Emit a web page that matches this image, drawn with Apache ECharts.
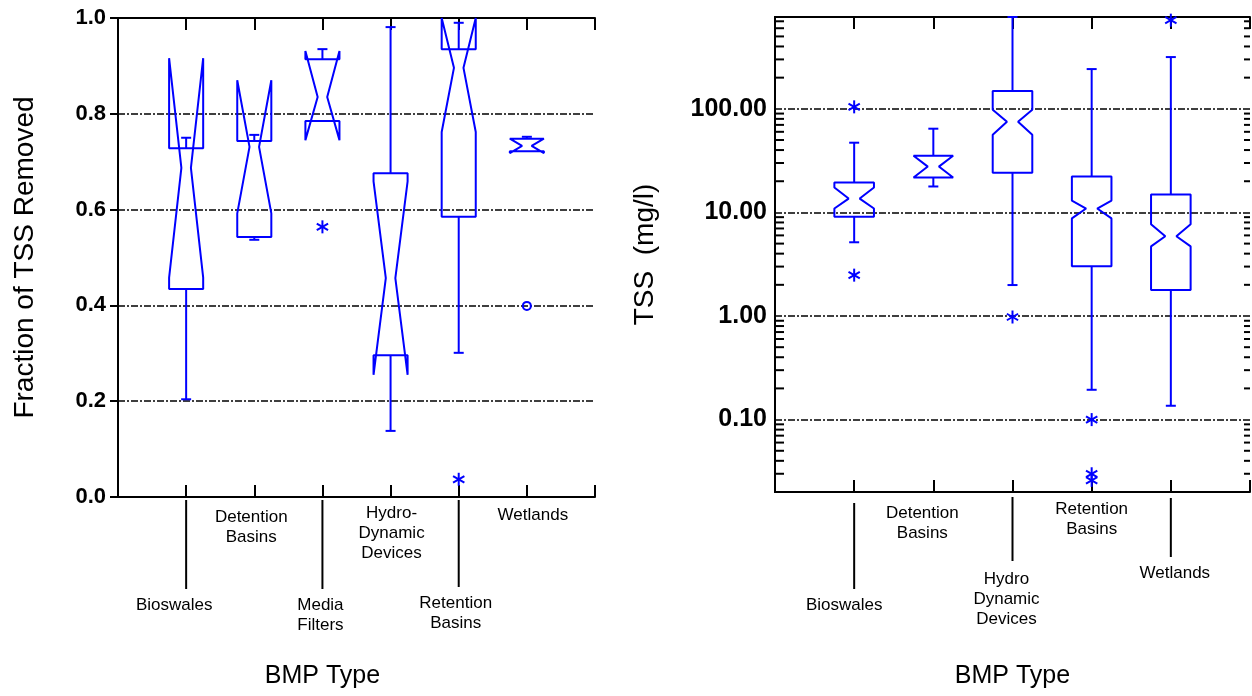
<!DOCTYPE html>
<html>
<head>
<meta charset="utf-8">
<script src="https://cdn.jsdelivr.net/npm/echarts@6.0.0/dist/echarts.min.js"></script>
<style>
html,body{margin:0;padding:0;background:#fff}
#chart{width:1252px;height:696px}
</style>
</head>
<body>
<div id="chart"></div>
<script>
// ---------------- DATA ----------------
// Left panel: Fraction of TSS Removed
const leftCategories = ['Bioswales', 'Detention Basins', 'Media Filters', 'Hydro-Dynamic Devices', 'Retention Basins', 'Wetlands'];
const leftTickLabels = ['Bioswales', 'Detention\nBasins', 'Media\nFilters', 'Hydro-\nDynamic\nDevices', 'Retention\nBasins', 'Wetlands'];
const leftWhiskerLow  = [0.204, 0.537, 0.785, 0.138, 0.301, 0.722];
const leftQ1          = [0.434, 0.543, 0.785, 0.296, 0.585, 0.722];
const leftNotchLow    = [0.458, 0.592, 0.745, 0.255, 0.762, 0.718];
const leftMedian      = [0.687, 0.731, 0.835, 0.457, 0.896, 0.733];
const leftNotchHigh   = [0.916, 0.870, 0.931, 0.659, 1.000, 0.748];
const leftQ3          = [0.728, 0.743, 0.914, 0.676, 0.935, 0.748];
const leftWhiskerHigh = [0.750, 0.756, 0.935, 0.981, 0.990, 0.752];
const leftStarCategory   = ['Media Filters', 'Retention Basins'];
const leftStarValue      = [0.564, 0.037];
const leftCircleCategory = ['Wetlands'];
const leftCircleValue    = [0.399];

// Right panel: TSS (mg/l), log scale
const rightCategories = ['Bioswales', 'Detention Basins', 'Hydro Dynamic Devices', 'Retention Basins', 'Wetlands'];
const rightTickLabels = ['Bioswales', 'Detention\nBasins', 'Hydro\nDynamic\nDevices', 'Retention\nBasins', 'Wetlands'];
const rightWhiskerLow  = [5.15, 17.8, 1.99, 0.194, 0.136];
const rightQ1          = [9.1, 21.7, 24.2, 3.03, 1.78];
const rightNotchLow    = [10.9, 21.7, 56.2, 8.75, 4.7];
const rightMedian      = [13.6, 27.7, 75, 10.9, 5.88];
const rightNotchHigh   = [17.4, 35.3, 97.8, 13.0, 7.67];
const rightQ3          = [19.4, 35.3, 149, 22.2, 14.9];
const rightWhiskerHigh = [47.1, 64.3, 770, 242, 316];
const rightStarCategory = ['Bioswales', 'Bioswales', 'Hydro Dynamic Devices', 'Retention Basins', 'Retention Basins', 'Retention Basins', 'Wetlands'];
const rightStarValue    = [104.5, 2.48, 0.978, 0.1, 0.030, 0.0259, 718];
const rightMinorTicks = [0.03, 0.04, 0.05, 0.06, 0.07, 0.08, 0.09,
                         0.2, 0.3, 0.4, 0.5, 0.6, 0.7, 0.8, 0.9,
                         2, 3, 4, 5, 6, 7, 8, 9,
                         20, 30, 40, 50, 60, 70, 80, 90,
                         200, 300, 400, 500, 600, 700];

// ---------------- RENDERING ----------------
const BLUE = '#0000ff';
const FONT = '"Liberation Sans", Arial, sans-serif';
const GRID_DASH = [7, 2, 2, 2];

function boxData(cats, wl, q1, nl, md, nh, q3, wh) {
  return cats.map((c, i) => [i + 1, wl[i], q1[i], nl[i], md[i], nh[i], q3[i], wh[i]]);
}
function pointData(allCats, cats, vals) {
  return cats.map((c, i) => [allCats.indexOf(c) + 1, vals[i]]);
}

function renderBox(params, api) {
  const x = api.value(0);
  const wl = api.value(1), q1 = api.value(2), nl = api.value(3), md = api.value(4),
        nh = api.value(5), q3 = api.value(6), wh = api.value(7);
  const cx = api.coord([x, md])[0];
  const half = api.coord([x + 0.25, md])[0] - cx;
  const ins = half * 0.72;
  const L = cx - half, R = cx + half;
  const y = v => api.coord([x, v])[1];
  const style = { stroke: BLUE, fill: 'none', lineWidth: 2, lineJoin: 'bevel' };
  const cap = 5;
  const children = [{
    type: 'polygon',
    shape: { points: [[L, y(q1)], [L, y(nl)], [L + ins, y(md)], [L, y(nh)], [L, y(q3)],
                      [R, y(q3)], [R, y(nh)], [R - ins, y(md)], [R, y(nl)], [R, y(q1)]] },
    style: style
  }];
  if (wh > q3) {
    children.push({ type: 'line', shape: { x1: cx, y1: y(q3), x2: cx, y2: y(wh) }, style: style });
    children.push({ type: 'line', shape: { x1: cx - cap, y1: y(wh), x2: cx + cap, y2: y(wh) }, style: style });
  }
  if (wl < q1) {
    children.push({ type: 'line', shape: { x1: cx, y1: y(q1), x2: cx, y2: y(wl) }, style: style });
    children.push({ type: 'line', shape: { x1: cx - cap, y1: y(wl), x2: cx + cap, y2: y(wl) }, style: style });
  }
  return { type: 'group', children: children };
}

function renderStar(params, api) {
  const p = api.coord([api.value(0), api.value(1)]);
  const r = 6.5, a = r * 0.87, b = r * 0.5;
  const style = { stroke: BLUE, lineWidth: 2 };
  return { type: 'group', children: [
    { type: 'line', shape: { x1: p[0], y1: p[1] - r, x2: p[0], y2: p[1] + r }, style: style },
    { type: 'line', shape: { x1: p[0] - a, y1: p[1] - b, x2: p[0] + a, y2: p[1] + b }, style: style },
    { type: 'line', shape: { x1: p[0] - a, y1: p[1] + b, x2: p[0] + a, y2: p[1] - b }, style: style }
  ]};
}

function renderCircle(params, api) {
  const p = api.coord([api.value(0), api.value(1)]);
  return { type: 'circle', shape: { cx: p[0], cy: p[1], r: 4 }, style: { stroke: BLUE, fill: 'none', lineWidth: 2 } };
}

// label layout: dx offset of text, leader line [start,end] below axis (or null), first line centre below axis
const leftLabelLayout = [
  { dx: -12, line: [3, 92], first: 108 },
  { dx: -3, line: null, first: 20 },
  { dx: -2, line: [3, 92], first: 108 },
  { dx: 1, line: null, first: 16 },
  { dx: -3, line: [3, 90], first: 106 },
  { dx: 6, line: null, first: 18 }
];
const rightLabelLayout = [
  { dx: -10, line: [11, 97], first: 113 },
  { dx: -11, line: null, first: 21 },
  { dx: -6, line: [5, 69], first: 87 },
  { dx: 0, line: null, first: 17 },
  { dx: 4, line: [6, 65], first: 81 }
];

function makeLabelRenderer(labels, layout) {
  return function (params, api) {
    const i = params.dataIndex;
    const x = api.coord([api.value(0), api.value(1)])[0];
    const bottom = params.coordSys.y + params.coordSys.height;
    const lay = layout[i];
    const children = [];
    if (lay.line) {
      children.push({ type: 'line', shape: { x1: x, y1: bottom + lay.line[0], x2: x, y2: bottom + lay.line[1] },
        style: { stroke: '#000', lineWidth: 2 } });
    }
    children.push({ type: 'text', style: {
      text: labels[i], x: x + lay.dx, y: bottom + lay.first - 10,
      align: 'center', verticalAlign: 'top', lineHeight: 20,
      font: '17px ' + FONT, fill: '#000' } });
    return { type: 'group', children: children };
  };
}

function renderMinorTick(params, api) {
  const cs = params.coordSys;
  const yy = api.coord([1, api.value(1)])[1];
  const style = { stroke: '#000', lineWidth: 2 };
  return { type: 'group', children: [
    { type: 'line', shape: { x1: cs.x, y1: yy, x2: cs.x + 9, y2: yy }, style: style },
    { type: 'line', shape: { x1: cs.x + cs.width - 6, y1: yy, x2: cs.x + cs.width, y2: yy }, style: style }
  ]};
}

const axisLineStyle = { color: '#000', width: 2 };
const xTitleStyle = { fontFamily: FONT, fontSize: 25, color: '#000' };
const yTitleStyle = { fontFamily: FONT, fontSize: 28, color: '#000' };

function xAxisDef(grid, max, pos, nameGap, namePad) {
  const a = {
    gridIndex: grid, type: 'value', min: 0, max: max, interval: 1, position: pos,
    axisLine: { show: true, onZero: false, lineStyle: axisLineStyle },
    axisTick: { show: true, inside: true, length: 12, lineStyle: axisLineStyle },
    axisLabel: { show: false }, splitLine: { show: false }
  };
  if (nameGap) {
    a.name = 'BMP Type'; a.nameLocation = 'middle'; a.nameGap = nameGap;
    a.nameTextStyle = Object.assign({ padding: namePad }, xTitleStyle);
  }
  return a;
}

const option = {
  animation: false,
  backgroundColor: '#fff',
  grid: [
    { left: 118, top: 18, width: 477, height: 479 },
    { left: 775, top: 17, width: 475, height: 475 }
  ],
  xAxis: [
    xAxisDef(0, 7, 'bottom', 167, [0, 68, 0, 0]),
    xAxisDef(0, 7, 'top', 0),
    xAxisDef(1, 6, 'bottom', 172, [0, 0, 0, 0]),
    xAxisDef(1, 6, 'top', 0)
  ],
  yAxis: [
    {
      gridIndex: 0, type: 'value', min: 0, max: 1, interval: 0.2, position: 'left',
      axisLine: { show: true, lineStyle: axisLineStyle },
      axisTick: { show: false },
      axisLabel: { formatter: v => v.toFixed(1), fontFamily: FONT, fontWeight: 'bold', fontSize: 22, color: '#000', margin: 12 },
      splitLine: { show: true, lineStyle: { color: '#000', width: 1.5, type: GRID_DASH } },
      name: 'Fraction of TSS Removed', nameLocation: 'middle', nameRotate: 90, nameGap: 79, nameTextStyle: yTitleStyle
    },
    {
      gridIndex: 0, type: 'value', min: 0, max: 1, interval: 0.2, position: 'right',
      axisLine: { show: true, lineStyle: axisLineStyle },
      axisTick: { show: true, inside: true, length: 8, lineStyle: axisLineStyle },
      axisLabel: { show: false }, splitLine: { show: false }
    },
    {
      gridIndex: 1, type: 'log', logBase: 10, min: 0.02, max: 770, position: 'left',
      axisLine: { show: true, lineStyle: axisLineStyle },
      axisTick: { show: false },
      axisLabel: { formatter: v => Number(v).toFixed(2), showMinLabel: false, showMaxLabel: false,
        fontFamily: FONT, fontWeight: 'bold', fontSize: 25, color: '#000', margin: 8 },
      splitLine: { show: true, lineStyle: { color: '#000', width: 1.5, type: GRID_DASH } },
      name: 'TSS  (mg/l)', nameLocation: 'middle', nameRotate: 90, nameGap: 116, nameTextStyle: yTitleStyle
    },
    {
      gridIndex: 1, type: 'log', logBase: 10, min: 0.02, max: 770, position: 'right',
      axisLine: { show: true, lineStyle: axisLineStyle },
      axisTick: { show: false },
      axisLabel: { show: false }, splitLine: { show: false }
    }
  ],
  series: [
    { type: 'custom', xAxisIndex: 0, yAxisIndex: 0, clip: false, renderItem: renderBox,
      encode: { x: 0, y: [1, 2, 3, 4, 5, 6, 7] },
      data: boxData(leftCategories, leftWhiskerLow, leftQ1, leftNotchLow, leftMedian, leftNotchHigh, leftQ3, leftWhiskerHigh) },
    { type: 'custom', xAxisIndex: 0, yAxisIndex: 0, clip: false, renderItem: renderStar,
      encode: { x: 0, y: 1 }, data: pointData(leftCategories, leftStarCategory, leftStarValue) },
    { type: 'custom', xAxisIndex: 0, yAxisIndex: 0, clip: false, renderItem: renderCircle,
      encode: { x: 0, y: 1 }, data: pointData(leftCategories, leftCircleCategory, leftCircleValue) },
    { type: 'custom', xAxisIndex: 0, yAxisIndex: 0, clip: false, renderItem: makeLabelRenderer(leftTickLabels, leftLabelLayout),
      encode: { x: 0, y: 1 }, data: leftCategories.map((c, i) => [i + 1, 0.5]) },

    { type: 'custom', xAxisIndex: 2, yAxisIndex: 2, clip: false, renderItem: renderBox,
      encode: { x: 0, y: [1, 2, 3, 4, 5, 6, 7] },
      data: boxData(rightCategories, rightWhiskerLow, rightQ1, rightNotchLow, rightMedian, rightNotchHigh, rightQ3, rightWhiskerHigh) },
    { type: 'custom', xAxisIndex: 2, yAxisIndex: 2, clip: false, renderItem: renderStar,
      encode: { x: 0, y: 1 }, data: pointData(rightCategories, rightStarCategory, rightStarValue) },
    { type: 'custom', xAxisIndex: 2, yAxisIndex: 2, clip: false, renderItem: makeLabelRenderer(rightTickLabels, rightLabelLayout),
      encode: { x: 0, y: 1 }, data: rightCategories.map((c, i) => [i + 1, 1]) },
    { type: 'custom', xAxisIndex: 2, yAxisIndex: 2, clip: false, renderItem: renderMinorTick,
      encode: { x: 0, y: 1 }, data: rightMinorTicks.map(v => [1, v]) }
  ]
};

const chart = echarts.init(document.getElementById('chart'), null, { renderer: 'canvas' });
chart.setOption(option);
</script>
</body>
</html>
